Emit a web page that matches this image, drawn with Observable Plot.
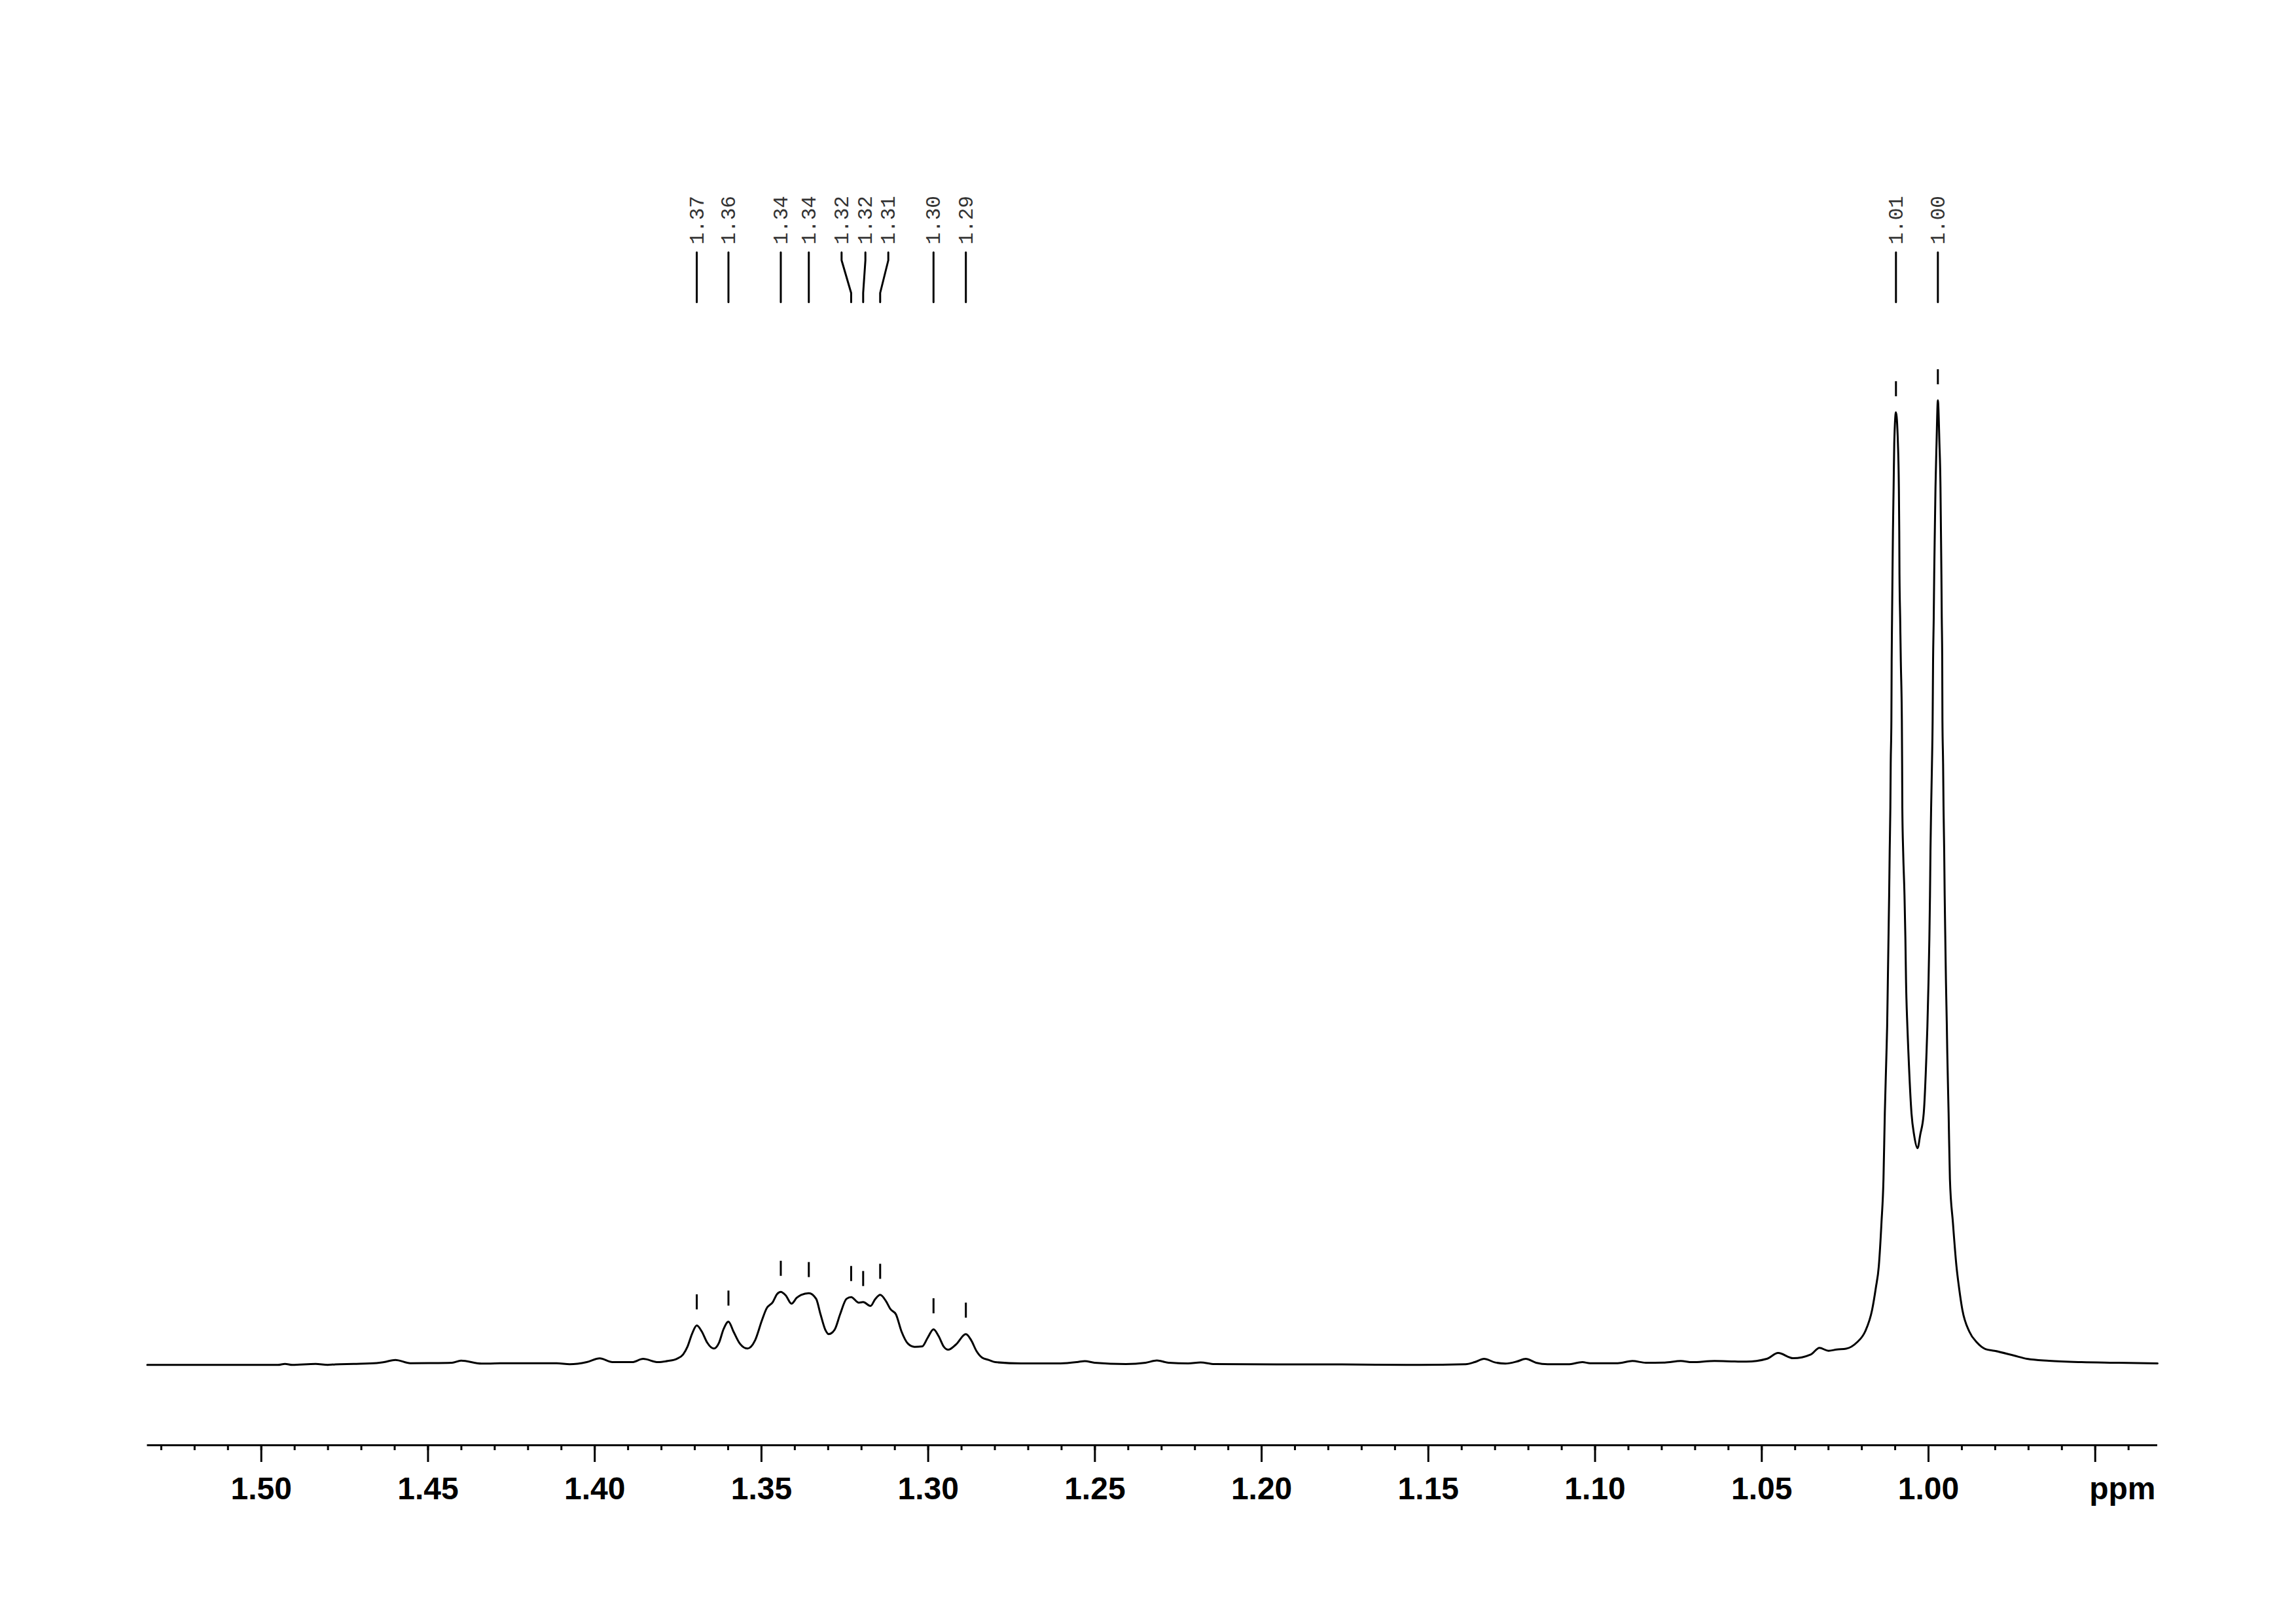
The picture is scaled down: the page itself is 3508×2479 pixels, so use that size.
<!DOCTYPE html>
<html>
<head>
<meta charset="utf-8">
<script src="https://cdn.jsdelivr.net/npm/d3@7"></script>
<script src="https://cdn.jsdelivr.net/npm/@observablehq/plot@0.6"></script>
<style>
  html, body { margin: 0; padding: 0; background: #fff; }
  #chart svg { display: block; }
  g[aria-label="x-axis tick label"] text { font-weight: bold; }
</style>
</head>
<body>
<div id="chart"></div>
<script>
// ---- Spectrum (chemical shift in ppm, relative intensity; tallest peak = 100) ----
const ppm = [
  1.5342, 1.4950, 1.4929, 1.4907, 1.4837, 1.4801, 1.4778, 1.4723, 1.4654, 1.4632,
  1.4598, 1.4553, 1.4497, 1.4428, 1.4401, 1.4340, 1.4259, 1.4114, 1.4075, 1.4024,
  1.3985, 1.3947, 1.3888, 1.3855, 1.3810, 1.3781, 1.3754, 1.3735, 1.3722, 1.3708,
  1.3694, 1.3679, 1.3663, 1.3643, 1.3627, 1.3614, 1.3599, 1.3584, 1.3565, 1.3542,
  1.3519, 1.3499, 1.3485, 1.3466, 1.3453, 1.3442, 1.3427, 1.3410, 1.3394, 1.3381,
  1.3358, 1.3336, 1.3323, 1.3309, 1.3298, 1.3280, 1.3264, 1.3245, 1.3231, 1.3208,
  1.3195, 1.3173, 1.3159, 1.3144, 1.3126, 1.3113, 1.3097, 1.3080, 1.3061, 1.3041,
  1.3018, 1.3002, 1.2984, 1.2969, 1.2953, 1.2940, 1.2917, 1.2887, 1.2871, 1.2855,
  1.2838, 1.2819, 1.2799, 1.2721, 1.2603, 1.2554, 1.2530, 1.2501, 1.2407, 1.2348,
  1.2314, 1.2279, 1.2220, 1.2183, 1.2142, 1.1955, 1.1759, 1.1563, 1.1527, 1.1388,
  1.1361, 1.1333, 1.1299, 1.1269, 1.1234, 1.1208, 1.1177, 1.1142, 1.1081, 1.1038,
  1.1015, 1.0932, 1.0888, 1.0848, 1.0791, 1.0743, 1.0709, 1.0642, 1.0581, 1.0546,
  1.0485, 1.0451, 1.0406, 1.0353, 1.0327, 1.0300, 1.0275, 1.0247, 1.0215, 1.0190,
  1.0169, 1.0158, 1.0149, 1.0141, 1.0135, 1.0131, 1.0126, 1.0124, 1.0122, 1.0120,
  1.0118, 1.01164, 1.01144, 1.01133, 1.01113, 1.01105, 1.01093, 1.01080, 1.01066, 1.01046,
  1.01027, 1.00976, 1.00917, 1.00889, 1.00877, 1.00870, 1.00850, 1.00830, 1.00799, 1.00791,
  1.00785, 1.00760, 1.00720, 1.00693, 1.00673, 1.00634, 1.00603, 1.00510, 1.00432, 1.00328,
  1.00249, 1.00143, 1.00059, 1.00033, 1.00000, 0.99974, 0.99955, 0.99941, 0.99921, 0.99896,
  0.99876, 0.99863, 0.99843, 0.99829, 0.99810, 0.99790, 0.99759, 0.99719, 0.99672, 0.99641,
  0.99627, 0.99613, 0.99602, 0.99588, 0.99582, 0.99562, 0.99549, 0.99529, 0.99515, 0.99496,
  0.99476, 0.99450, 0.99437, 0.99397, 0.99358, 0.99268, 0.99162, 0.99083, 0.98985, 0.98777,
  0.98547, 0.98292, 0.98023, 0.97434, 0.97042, 0.96388, 0.95407, 0.94425, 0.93130
];
const intensity = [
  -0.09, -0.09, 0.02, -0.09, 0.02, -0.09, -0.03, 0.02, 0.10, 0.20,
  0.43, 0.09, 0.10, 0.14, 0.36, 0.05, 0.09, 0.09, -0.02, 0.20,
  0.59, 0.20, 0.20, 0.54, 0.20, 0.32, 0.54, 1.00, 1.79, 3.15,
  4.01, 3.38, 2.24, 1.61, 2.24, 3.60, 4.40, 3.38, 2.13, 1.61,
  2.47, 4.50, 5.75, 6.43, 7.27, 7.49, 7.11, 6.27, 6.88, 7.18,
  7.36, 6.77, 5.18, 3.60, 3.10, 3.60, 5.18, 6.77, 6.95, 6.37,
  6.43, 6.03, 6.73, 7.18, 6.50, 5.69, 5.18, 3.38, 2.13, 1.79,
  1.83, 2.70, 3.60, 2.92, 1.79, 1.49, 2.02, 3.10, 2.47, 1.34,
  0.66, 0.43, 0.20, 0.07, 0.07, 0.20, 0.31, 0.14, 0.00, 0.14,
  0.37, 0.14, 0.07, 0.17, 0.00, -0.03, -0.03, -0.09, -0.09, -0.02,
  0.20, 0.54, 0.16, 0.05, 0.27, 0.54, 0.14, -0.02, -0.02, 0.20,
  0.09, 0.09, 0.32, 0.14, 0.16, 0.32, 0.20, 0.32, 0.27, 0.25,
  0.54, 1.15, 0.61, 1.00, 1.68, 1.38, 1.51, 1.60, 2.24, 3.38,
  5.64, 7.90, 10.17, 14.69, 19.23, 26.02, 32.36, 35.07, 39.61, 44.14,
  48.66, 53.19, 57.72, 62.25, 66.78, 72.89, 77.45, 81.93, 86.48, 91.03,
  95.52, 98.76, 95.52, 91.03, 86.48, 81.93, 77.45, 72.89, 66.78, 62.25,
  57.72, 53.19, 48.66, 44.14, 39.61, 35.07, 32.36, 26.02, 23.78, 22.40,
  23.78, 26.02, 32.36, 35.07, 39.61, 44.14, 48.66, 53.19, 57.72, 62.25,
  66.78, 72.89, 77.45, 81.93, 86.48, 91.03, 95.52, 100.00, 95.52, 91.03,
  86.48, 81.93, 77.45, 72.89, 66.78, 62.25, 57.72, 53.19, 48.66, 44.14,
  39.61, 35.07, 32.36, 26.02, 19.23, 14.69, 10.17, 7.90, 5.64, 3.38,
  2.24, 1.56, 1.38, 0.88, 0.54, 0.34, 0.20, 0.14, 0.07
];

// ---- Picked peaks ----
const peakLabels = ["1.37", "1.36", "1.34", "1.34", "1.32", "1.32", "1.31", "1.30", "1.29", "1.01", "1.00"];
const peakPpm    = [1.3694, 1.3599, 1.3442, 1.3358, 1.3231, 1.3195, 1.3144, 1.2984, 1.2887, 1.00976, 0.99719];
const peakHeight = [4.01, 4.40, 7.49, 7.36, 6.95, 6.43, 7.18, 3.60, 3.15, 98.76, 100.00];
const labelPpm   = [1.3694, 1.3599, 1.3442, 1.3358, 1.32597, 1.31883, 1.31196, 1.2984, 1.2887, 1.00976, 0.99719];

// ---- Axis ----
const majorTicks = [1.50, 1.45, 1.40, 1.35, 1.30, 1.25, 1.20, 1.15, 1.10, 1.05, 1.00, 0.95];
const majorTickLabels = ["1.50", "1.45", "1.40", "1.35", "1.30", "1.25", "1.20", "1.15", "1.10", "1.05", "1.00", ""];
const minorTicks = d3.range(94, 154).map(i => i / 100);
const axisUnit = "ppm";
const xDomain = [1.5342, 0.9313];
const yDomain = [0, 100];

// ---- Layout (pixels) ----
const W = 3508, H = 2479;
const X0 = 224.5, X1 = 3296;
const AXIS_Y = 2207, BASE_Y = 2083, TOP_Y = 611;
const LEAD_TOP = 385, LEAD_BEND1 = 397, LEAD_BEND2 = 447, LEAD_BOTTOM = 461, LABEL_START = 373;

const ys = Plot.scale({y: {domain: yDomain, range: [BASE_Y, TOP_Y]}});
const yAt = px => ys.invert(px);

const spectrum = ppm.map((p, i) => ({p, v: intensity[i]}));
const peaks = peakPpm.map((p, i) => ({
  p, h: peakHeight[i], lp: labelPpm[i], label: peakLabels[i]
}));
const leaders = peaks.flatMap((d, i) => [
  {i, x: d.lp, y: yAt(LEAD_TOP)},
  {i, x: d.lp, y: yAt(LEAD_BEND1)},
  {i, x: d.p,  y: yAt(LEAD_BEND2)},
  {i, x: d.p,  y: yAt(LEAD_BOTTOM)}
]);

const chart = Plot.plot({
  width: W,
  height: H,
  marginLeft: X0,
  marginRight: W - X1,
  marginTop: 0,
  marginBottom: H - AXIS_Y,
  x: {domain: xDomain, range: [X0, X1]},
  y: {domain: yDomain, range: [BASE_Y, TOP_Y], axis: null},
  style: {fontFamily: "'Liberation Sans', Arial, sans-serif", background: "#fff", color: "#000"},
  marks: [
    // axis line
    Plot.ruleY([yAt(AXIS_Y)], {stroke: "#000", strokeWidth: 3}),
    // minor ticks
    Plot.axisX(minorTicks, {anchor: "bottom", tickSize: 8, strokeWidth: 3, tickFormat: () => "", label: null}),
    // major ticks with labels
    Plot.axisX(majorTicks, {
      anchor: "bottom", tickSize: 26, tickPadding: 22, strokeWidth: 3,
      tickFormat: d => majorTickLabels[majorTicks.indexOf(d)],
      fontSize: 48, fontWeight: "bold", fill: "#000", label: null
    }),
    // unit label
    Plot.text([axisUnit], {
      frameAnchor: "bottom-right", text: d => d, dy: 82, dx: -3,
      textAnchor: "end", lineAnchor: "bottom",
      fontSize: 48, fontWeight: "bold", fill: "#000"
    }),
    // spectrum trace
    Plot.line(spectrum, {x: "p", y: "v", curve: "monotone-x", stroke: "#000", strokeWidth: 3, strokeLinejoin: "round"}),
    // peak markers above each picked peak
    Plot.ruleX(peaks, {
      x: "p",
      y1: d => yAt(ys.apply(d.h) - 24),
      y2: d => yAt(ys.apply(d.h) - 47),
      stroke: "#000", strokeWidth: 3
    }),
    // leader lines
    Plot.line(leaders, {x: "x", y: "y", z: "i", stroke: "#000", strokeWidth: 3, curve: "linear"}),
    // peak labels
    Plot.text(peaks, {
      x: "lp", y: () => yAt(LABEL_START), text: "label",
      rotate: -90, textAnchor: "start", lineAnchor: "middle",
      fontSize: 31, fontFamily: "'Liberation Mono', 'DejaVu Sans Mono', monospace", fill: "#333"
    })
  ]
});

document.getElementById("chart").appendChild(chart);
</script>
</body>
</html>
